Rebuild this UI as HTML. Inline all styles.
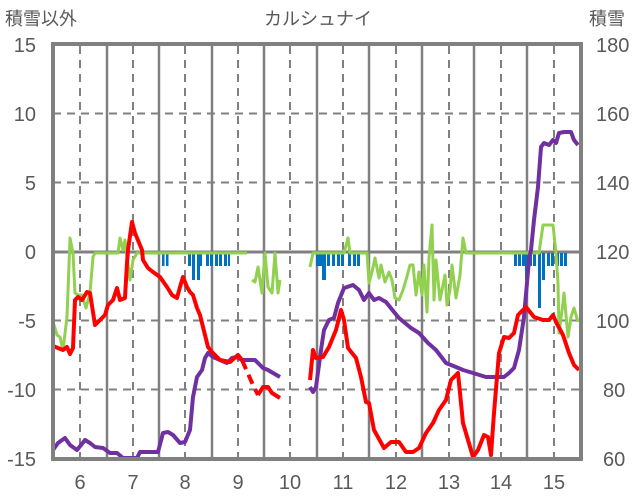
<!DOCTYPE html>
<html><head><meta charset="utf-8"><style>
body{margin:0;background:#fff;}
svg{display:block;font-family:"Liberation Sans","Noto Sans CJK JP",sans-serif;}
</style></head><body>
<svg width="636" height="501" viewBox="0 0 636 501">
<rect width="636" height="501" fill="#fff"/>
<g stroke="#808080" stroke-width="2" stroke-dasharray="8,6">
<line x1="80" y1="46" x2="80" y2="457"/><line x1="133" y1="46" x2="133" y2="457"/><line x1="185" y1="46" x2="185" y2="457"/><line x1="238" y1="46" x2="238" y2="457"/><line x1="290" y1="46" x2="290" y2="457"/><line x1="343" y1="46" x2="343" y2="457"/><line x1="396" y1="46" x2="396" y2="457"/><line x1="449" y1="46" x2="449" y2="457"/><line x1="501" y1="46" x2="501" y2="457"/><line x1="554" y1="46" x2="554" y2="457"/>
<line x1="53" y1="113.5" x2="581" y2="113.5"/><line x1="53" y1="182.5" x2="581" y2="182.5"/><line x1="53" y1="320.5" x2="581" y2="320.5"/><line x1="53" y1="389.5" x2="581" y2="389.5"/>
</g>
<g stroke="#808080" stroke-width="2.5">
<line x1="107" y1="46" x2="107" y2="457"/><line x1="159" y1="46" x2="159" y2="457"/><line x1="212" y1="46" x2="212" y2="457"/><line x1="264" y1="46" x2="264" y2="457"/><line x1="317" y1="46" x2="317" y2="457"/><line x1="369" y1="46" x2="369" y2="457"/><line x1="422" y1="46" x2="422" y2="457"/><line x1="474" y1="46" x2="474" y2="457"/><line x1="527" y1="46" x2="527" y2="457"/>
<line x1="53" y1="252" x2="581" y2="252" stroke-width="3"/>
</g>
<g fill="#0070C0">
<rect x="162" y="253" width="2.5" height="13"/><rect x="166" y="253" width="2.5" height="13"/>
<rect x="188" y="253" width="3" height="13"/><rect x="192" y="253" width="3" height="27"/><rect x="197" y="253" width="3" height="27"/><rect x="200" y="253" width="2" height="13"/>
<rect x="206" y="253" width="3" height="13"/><rect x="210" y="253" width="3" height="13"/><rect x="215" y="253" width="3" height="13"/><rect x="219" y="253" width="3" height="13"/><rect x="224" y="253" width="3" height="13"/><rect x="228" y="253" width="2" height="13"/>
<rect x="316" y="253" width="3" height="13"/><rect x="319" y="253" width="3" height="13"/><rect x="322" y="253" width="4" height="27"/><rect x="327" y="253" width="3" height="13"/><rect x="332" y="253" width="3" height="13"/><rect x="337" y="253" width="3" height="13"/><rect x="341" y="253" width="3" height="13"/><rect x="348" y="253" width="3" height="13"/><rect x="353" y="253" width="3" height="13"/><rect x="357" y="253" width="3" height="13"/>
<rect x="514" y="253" width="3" height="13"/><rect x="518" y="253" width="3" height="13"/><rect x="522" y="253" width="3" height="13"/><rect x="525" y="253" width="3" height="27"/><rect x="529" y="253" width="3" height="13"/><rect x="533" y="253" width="3" height="13"/><rect x="538" y="253" width="3" height="55"/><rect x="542" y="253" width="3" height="27"/><rect x="547" y="253" width="3" height="13"/><rect x="551" y="253" width="3" height="13"/><rect x="556" y="253" width="3" height="13"/><rect x="560" y="253" width="3" height="13"/><rect x="564" y="253" width="3" height="13"/>
</g>
<g fill="none" stroke="#92D050" stroke-width="3" stroke-linejoin="round">
<polyline points="53,322 57,335 60,337 63,350 67,317 70,238 73,253 75,293 78,295 82,295 86,308 90,293 93,257 95,253 118,253 120,238 123,250 125,240 127,257 130,280 133,260 137,253 247,253"/>
<polyline points="252,280 255,282 258,267 262,293 265,253 268,287 272,293 275,253 278,293 280,280"/>
<polyline points="310,267 313,253 344,253 348,238 350,253 367,253 369,283 372,272 375,258 379,278 381,265 385,282 389,272 392,280 395,298 399,300 403,290 406,280 410,265 413,265 416,295 419,272 422,295 424,265 427,312 429,258 432,225 434,300 436,260 440,300 445,275 447,305 450,290 452,265 456,298 460,275 463,238 466,253 539,253 543,225 553,225 556,253 558,283 559,333 563,303 564,293 568,337 571,317 574,308 578,322"/>
</g>
<g fill="none" stroke="#7030A0" stroke-width="4" stroke-linejoin="round">
<polyline points="53,450 58,443 65,438 70,445 77,450 85,440 90,443 95,447 103,448 110,453 117,453 123,458 137,458 140,452 158,452 163,433 168,432 173,435 180,443 185,442 190,430 193,397 197,377 202,370 205,358 208,353 213,357 220,360 227,363 232,358 237,357 242,360 255,360 263,368 268,370 273,373 280,377"/>
<polyline points="310,387 313,392 316,387 321,350 324,330 329,320 334,318 338,303 344,288 353,285 359,290 364,300 369,293 374,300 379,298 386,302 394,312 399,318 411,328 419,333 428,343 436,350 446,363 456,367 463,370 473,373 486,377 504,377 509,373 514,368 519,350 524,317 529,260 531,250 534,220 538,187 541,147 544,143 549,145 553,140 556,143 559,133 564,132 571,132 574,140 578,145"/>
</g>
<g fill="none" stroke="#FF0000" stroke-width="4" stroke-linejoin="round">
<polyline points="53,346 63,350 67,347 70,354 73,348 75,300 78,297 82,300 87,292 90,293 95,325 100,320 105,315 108,305 113,300 117,288 120,300 125,298 127,263 128,250 132,222 135,233 142,250 143,260 148,268 153,272 160,277 167,287 172,295 177,298 180,287 183,277 187,287 190,292 193,295 197,308 200,315 205,335 208,347 212,352 220,360 230,362 238,355 242,360"/>
<polyline points="242,360 253,385 258,395" stroke-dasharray="10,6"/>
<polyline points="258,395 263,387 268,387 272,393 280,398"/>
<polyline points="310,380 313,350 316,358 323,357 329,347 336,330 341,310 344,320 348,348 356,358 361,377 366,402 369,403 374,430 384,448 391,442 399,442 406,452 413,452 419,448 426,433 433,423 439,410 446,400 451,380 458,373 463,423 473,457 478,450 484,435 488,437 491,455 494,413 499,353 504,337 509,338 514,333 518,315 521,312 526,307 534,317 543,320 549,320 553,315 556,322 563,335 569,353 574,365 579,370"/>
</g>
<rect x="53" y="44" width="528" height="415" fill="none" stroke="#808080" stroke-width="4"/>
<g fill="#595959" font-size="20">
<text x="36" y="52" text-anchor="end">15</text>
<text x="36" y="121" text-anchor="end">10</text>
<text x="36" y="190" text-anchor="end">5</text>
<text x="36" y="259" text-anchor="end">0</text>
<text x="36" y="328" text-anchor="end">-5</text>
<text x="36" y="397" text-anchor="end">-10</text>
<text x="36" y="466" text-anchor="end">-15</text>
<text x="596" y="52">180</text>
<text x="596" y="121">160</text>
<text x="596" y="190">140</text>
<text x="596" y="259">120</text>
<text x="596" y="328">100</text>
<text x="603" y="397">80</text>
<text x="603" y="466">60</text>
<g text-anchor="middle">
<text x="80" y="489">6</text><text x="133" y="489">7</text><text x="185" y="489">8</text><text x="238" y="489">9</text><text x="290" y="489">10</text><text x="343" y="489">11</text><text x="396" y="489">12</text><text x="449" y="489">13</text><text x="501" y="489">14</text><text x="554" y="489">15</text>
</g>
<text x="5" y="25" font-size="18">積雪以外</text>
<text x="589" y="25" font-size="18">積雪</text>
<text x="318" y="25" font-size="18" text-anchor="middle">カルシュナイ</text>
</g>
</svg>
</body></html>
